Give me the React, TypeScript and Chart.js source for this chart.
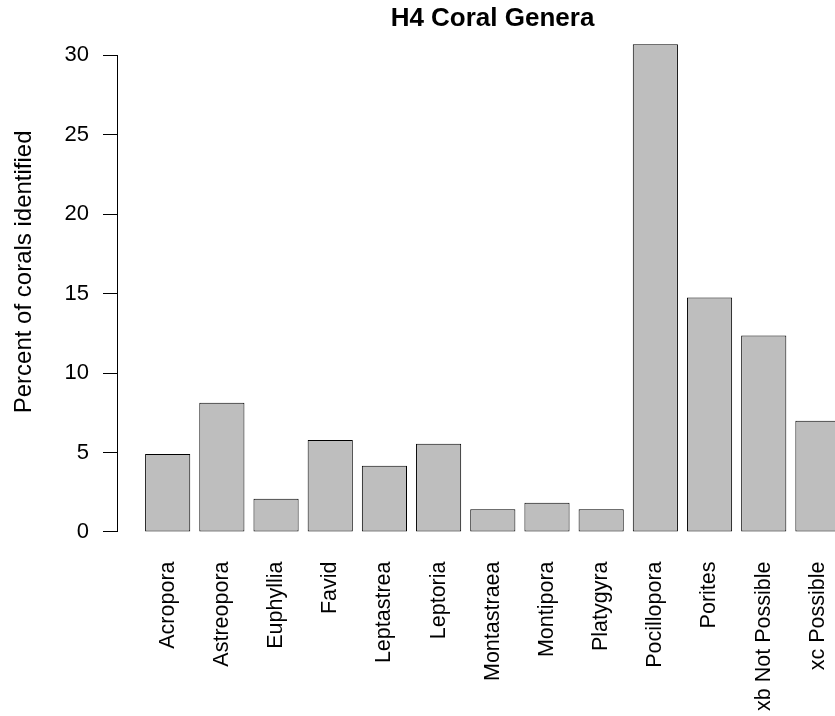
import { useEffect, useRef } from "react";
import { Chart, registerables } from "chart.js";

Chart.register(...registerables);

// Coral genera and their share of all corals identified at site H4 (%)
const genera = [
  "Acropora",
  "Astreopora",
  "Euphyllia",
  "Favid",
  "Leptastrea",
  "Leptoria",
  "Montastraea",
  "Montipora",
  "Platygyra",
  "Pocillopora",
  "Porites",
  "xb Not Possible",
  "xc Possible",
];
const percentIdentified = [4.9, 8.13, 2.09, 5.79, 4.17, 5.55, 1.43, 1.84, 1.43, 30.69, 14.76, 12.37, 7.0];
const yTickValues = [0, 5, 10, 15, 20, 25, 30];

const chartTitle = "H4 Coral Genera";
const yAxisTitle = "Percent of corals identified";

const FONT = "'Liberation Sans', Arial, Helvetica, sans-serif";

// barplot-style spacing in axis units: bars 1 wide, 0.2 gap before each
const BAR_WIDTH = 1;
const BAR_SPACE = 0.2;
const barCenter = (i: number) => BAR_SPACE + BAR_WIDTH / 2 + i * (BAR_WIDTH + BAR_SPACE);

const CANVAS_W = 985;
const CANVAS_H = 716;
const Y_AXIS_W = 118;
const X_AXIS_H = 164.5;

// y axis line spans only the labelled tick range; axis title drawn beside it
const axisDecor = {
  id: "axisDecor",
  afterDraw(chart: any) {
    const { ctx, chartArea, scales } = chart;
    const y = scales.y;
    const x0 = chartArea.left - 0.5;
    const top = Math.round(y.getPixelForValue(yTickValues[yTickValues.length - 1]) - 0.5) + 0.5;
    const bottom = Math.round(y.getPixelForValue(yTickValues[0]) - 0.5) + 0.5;
    ctx.save();
    ctx.strokeStyle = "#000";
    ctx.lineWidth = 1;
    ctx.beginPath();
    ctx.moveTo(x0, top);
    ctx.lineTo(x0, bottom);
    ctx.stroke();

    ctx.translate(24, (chartArea.top + chartArea.bottom) / 2 - 24);
    ctx.rotate(-Math.PI / 2);
    ctx.font = `24px ${FONT}`;
    ctx.fillStyle = "#000";
    ctx.textAlign = "center";
    ctx.textBaseline = "middle";
    ctx.fillText(yAxisTitle, 0, 0);
    ctx.restore();
  },
};

export default function App() {
  const canvasRef = useRef<HTMLCanvasElement>(null);

  useEffect(() => {
    const canvas = canvasRef.current;
    if (!canvas) return;
    const chart = new Chart(canvas, {
      type: "bar",
      data: {
        datasets: [
          {
            data: percentIdentified.map((v, i) => ({ x: barCenter(i), y: v })),
            backgroundColor: "#bebebe",
            borderColor: "#000",
            borderWidth: 1,
            borderSkipped: false,
            categoryPercentage: 1,
            barPercentage: BAR_WIDTH / (BAR_WIDTH + BAR_SPACE),
          },
        ],
      },
      options: {
        responsive: false,
        animation: false,
        devicePixelRatio: 1,
        layout: { padding: 0 },
        plugins: {
          legend: { display: false },
          tooltip: { enabled: false },
          title: {
            display: true,
            text: chartTitle,
            color: "#000",
            font: { family: FONT, size: 26, weight: "bold" },
            padding: { top: 3, bottom: 6 },
          },
        },
        scales: {
          x: {
            type: "linear",
            min: -0.4,
            max: 18.8,
            offset: false,
            grid: { display: false, drawTicks: false },
            border: { display: false },
            afterBuildTicks: (scale: any) => {
              scale.ticks = genera.map((_, i) => ({ value: barCenter(i) }));
            },
            afterFit: (scale: any) => {
              scale.height = X_AXIS_H;
            },
            ticks: {
              autoSkip: false,
              minRotation: 90,
              maxRotation: 90,
              padding: 10,
              color: "#000",
              font: { family: FONT, size: 21.5 },
              callback: (_v: any, i: number) => genera[i],
            },
          },
          y: {
            min: -1.23,
            max: 30.95,
            ticks: {
              stepSize: 5,
              includeBounds: false,
              padding: 14,
              color: "#000",
              font: { family: FONT, size: 22 },
            },
            afterBuildTicks: (scale: any) => {
              scale.ticks = yTickValues.map((v) => ({ value: v }));
            },
            afterFit: (scale: any) => {
              scale.width = Y_AXIS_W;
            },
            grid: {
              display: true,
              drawOnChartArea: false,
              drawTicks: true,
              tickLength: 15,
              color: "#000",
              lineWidth: 1,
            },
            border: { display: false },
          },
        },
      },
      plugins: [axisDecor],
    } as any);
    return () => chart.destroy();
  }, []);

  return (
    <div
      style={{
        position: "fixed",
        left: 0,
        top: 0,
        width: 835,
        height: 716,
        overflow: "hidden",
        background: "#fff",
      }}
    >
      <canvas ref={canvasRef} width={CANVAS_W} height={CANVAS_H} style={{ display: "block" }} />
    </div>
  );
}
